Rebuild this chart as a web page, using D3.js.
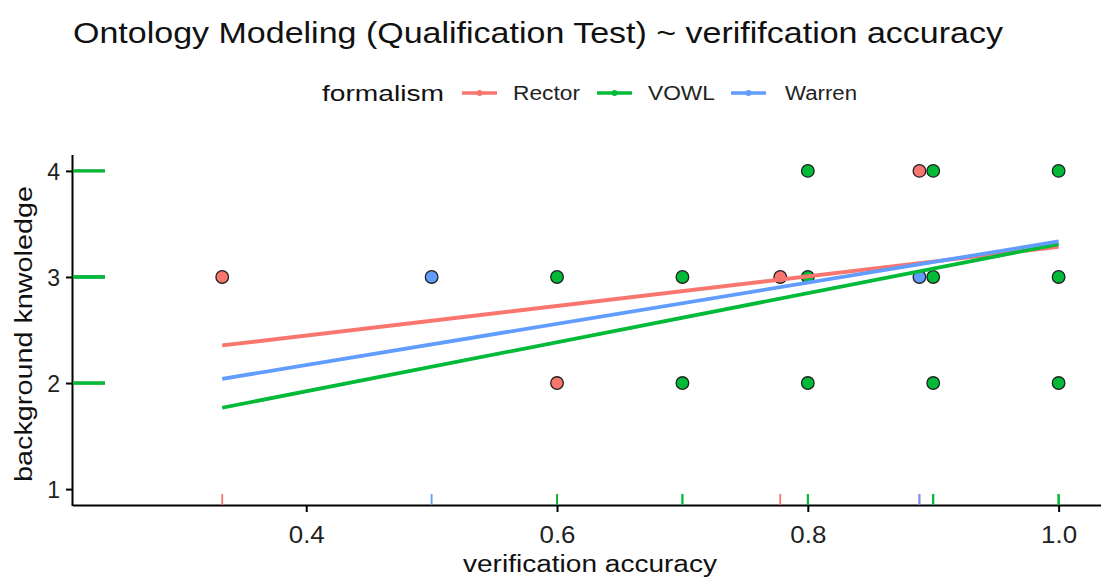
<!DOCTYPE html>
<html>
<head>
<meta charset="utf-8">
<script src="https://cdn.jsdelivr.net/npm/d3@7"></script>
<style>
  html, body { margin: 0; padding: 0; background: #fff; }
  svg { display: block; font-family: "Liberation Sans", Arial, Helvetica, sans-serif; }
</style>
</head>
<body>
<svg id="chart" width="1101" height="580"></svg>
<script>
// Series names and colours
const formalisms = ["Rector", "VOWL", "Warren"];
const colors = ["#F8766D", "#00BA38", "#619CFF"];

// Observations per formalism: verification accuracy (x) and background knowledge (y)
const rectorX = [0.333, 0.6, 0.778, 0.889];
const rectorY = [3, 2, 3, 4];
const vowlX = [0.6, 0.7, 0.8, 0.8, 0.9, 0.9, 1.0, 1.0, 0.7, 0.8, 0.9, 1.0];
const vowlY = [3, 3, 3, 4, 4, 3, 4, 3, 2, 2, 2, 2];
const warrenX = [0.5, 0.889];
const warrenY = [3, 3];

// Linear fits over the full accuracy range (start, end)
const fitX = [0.333, 1.0];
const rectorFit = [2.354, 3.285];
const vowlFit = [1.767, 3.31];
const warrenFit = [2.04, 3.335];

// Axis ticks
const xTicks = [0.4, 0.6, 0.8, 1.0];
const yTicks = [1, 2, 3, 4];

const series = {
  Rector: { xs: rectorX, ys: rectorY, fit: rectorFit, color: colors[0] },
  VOWL:   { xs: vowlX,   ys: vowlY,   fit: vowlFit,   color: colors[1] },
  Warren: { xs: warrenX, ys: warrenY, fit: warrenFit, color: colors[2] }
};
// Drawing order (VOWL on top)
const drawOrder = ["Rector", "Warren", "VOWL"];

const svg = d3.select("#chart");
const pLeft = 73, pRight = 1100, pTop = 155, pBottom = 505;

const x = d3.scaleLinear().domain([0.214, 1.033]).range([pLeft, pRight]);
const y = d3.scaleLinear().domain([0.85, 4.15]).range([pBottom, pTop]);

// Text with a fixed rendered width
function wide(sel, len) {
  return sel.attr("textLength", len).attr("lengthAdjust", "spacingAndGlyphs");
}

// Title
wide(svg.append("text")
  .attr("x", 73).attr("y", 43)
  .attr("font-size", 30).attr("fill", "#111")
  .text("Ontology Modeling (Qualification Test) ~ verififcation accuracy"), 930);

// Legend
const legendY = 93;
const lg = svg.append("g");
wide(lg.append("text").attr("x", 322).attr("y", legendY + 8)
  .attr("font-size", 22.5).attr("fill", "#111").text("formalism"), 122);
const keyX = [462, 597, 731];
const labelX = [513, 648, 785];
const labelW = [67, 67, 72];
formalisms.forEach((f, i) => {
  const g = lg.append("g");
  g.append("line").attr("x1", keyX[i]).attr("x2", keyX[i] + 35)
    .attr("y1", legendY).attr("y2", legendY)
    .attr("stroke", colors[i]).attr("stroke-width", 3.5);
  g.append("circle").attr("cx", keyX[i] + 17.5).attr("cy", legendY).attr("r", 3)
    .attr("fill", colors[i]);
  wide(g.append("text").attr("x", labelX[i]).attr("y", legendY + 7)
    .attr("font-size", 19.5).attr("fill", "#222").text(f), labelW[i]);
});

// Axes
const xAxis = svg.append("g").attr("transform", `translate(0,${pBottom})`)
  .call(d3.axisBottom(x).tickValues(xTicks).tickFormat(d3.format(".1f")).tickSizeOuter(0).tickSize(7));
xAxis.select(".domain").attr("stroke", "#000").attr("stroke-width", 2)
  .attr("d", `M${pLeft},0.5H${pRight + 5}`);
xAxis.selectAll(".tick line").attr("stroke", "#000").attr("stroke-width", 2);
xAxis.selectAll(".tick text")
  .attr("font-size", 23).attr("fill", "#222")
  .attr("font-family", "Liberation Sans, Arial, sans-serif")
  .attr("y", 38).attr("dy", null)
  .attr("textLength", 36).attr("lengthAdjust", "spacingAndGlyphs")
  .attr("x", -18).attr("text-anchor", "start");

const yAxis = svg.append("g").attr("transform", `translate(${pLeft},0)`)
  .call(d3.axisLeft(y).tickValues(yTicks).tickFormat(d3.format("d")).tickSizeOuter(0).tickSize(7));
yAxis.select(".domain").attr("stroke", "#000").attr("stroke-width", 2)
  .attr("d", `M-0.5,${pTop}V${pBottom + 1}`);
yAxis.selectAll(".tick line").attr("stroke", "#000").attr("stroke-width", 2);
yAxis.selectAll(".tick text").attr("font-size", 23).attr("fill", "#222")
  .attr("x", -13).attr("dy", "0.36em")
  .attr("font-family", "Liberation Sans, Arial, sans-serif");

// Axis titles
wide(svg.append("text").attr("x", 463).attr("y", 572)
  .attr("font-size", 23).attr("fill", "#111")
  .text("verification accuracy"), 254);
wide(svg.append("text")
  .attr("transform", `translate(32,482) rotate(-90)`)
  .attr("font-size", 23).attr("fill", "#111")
  .text("background knwoledge"), 296);

// Rugs
const rugLenX = 11, rugLenY = 32;
const rug = svg.append("g");
drawOrder.forEach(name => {
  const s = series[name];
  rug.selectAll(null).data(s.xs).enter().append("line")
    .attr("x1", d => x(d)).attr("x2", d => x(d))
    .attr("y1", pBottom - rugLenX).attr("y2", pBottom)
    .attr("stroke", s.color).attr("stroke-width", 1.8);
  rug.selectAll(null).data(s.ys).enter().append("line")
    .attr("x1", pLeft).attr("x2", pLeft + rugLenY)
    .attr("y1", d => y(d)).attr("y2", d => y(d))
    .attr("stroke", s.color).attr("stroke-width", 2.6);
});

// Points
const pts = svg.append("g");
drawOrder.forEach(name => {
  const s = series[name];
  pts.selectAll(null).data(d3.zip(s.xs, s.ys)).enter().append("circle")
    .attr("cx", d => x(d[0])).attr("cy", d => y(d[1])).attr("r", 6.3)
    .attr("fill", s.color).attr("stroke", "#222").attr("stroke-width", 1.3);
});

// Fit lines
const line = d3.line().x(d => x(d[0])).y(d => y(d[1]));
const fits = svg.append("g");
["Rector", "VOWL", "Warren"].forEach(name => {
  const s = series[name];
  fits.append("path").datum(d3.zip(fitX, s.fit))
    .attr("d", line).attr("fill", "none")
    .attr("stroke", s.color).attr("stroke-width", 3.8);
});
</script>
</body>
</html>
